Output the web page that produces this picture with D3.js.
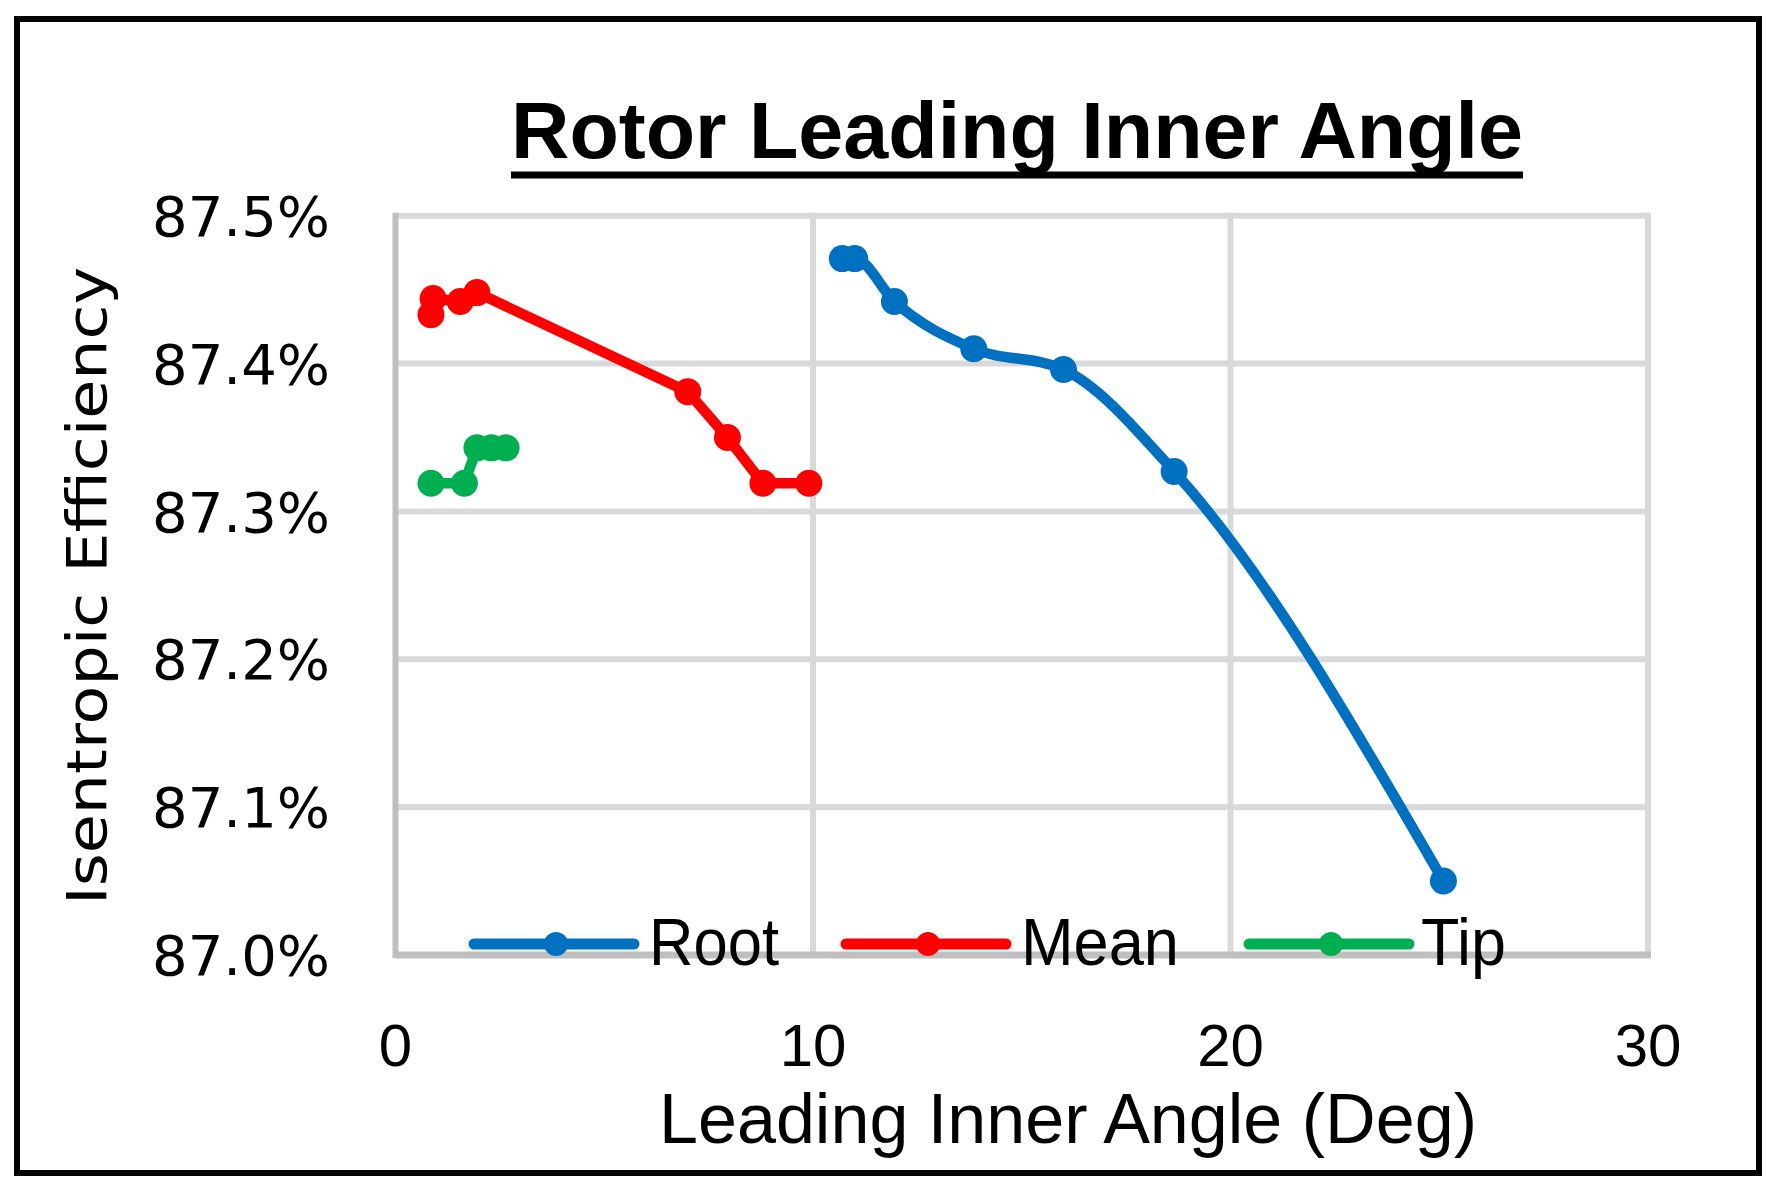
<!DOCTYPE html>
<html>
<head>
<meta charset="utf-8">
<script src="https://cdn.jsdelivr.net/npm/d3@7"></script>
<style>
  body { margin: 0; background: #fff; }
</style>
</head>
<body>
<svg id="chart"></svg>
<script>
var width = 1782;
var height = 1199;

// data
var rootX = [10.7, 11.0, 11.95, 13.85, 16.0, 18.65, 25.1];
var rootY = [87.471, 87.471, 87.442, 87.41, 87.396, 87.327, 87.05];
var meanX = [0.85, 0.9, 1.55, 1.95, 7.0, 7.95, 8.8, 9.9];
var meanY = [87.433, 87.444, 87.442, 87.448, 87.381, 87.35, 87.319, 87.319];
var tipX = [0.85, 1.65, 1.95, 2.3, 2.65];
var tipY = [87.319, 87.319, 87.343, 87.343, 87.343];

var seriesNames = ["Root", "Mean", "Tip"];
var seriesColors = ["#0070C0", "#FF0000", "#00B050"];
var xTicks = [0, 10, 20, 30];
var yTicks = [87.0, 87.1, 87.2, 87.3, 87.4, 87.5];

var series = [
  { name: seriesNames[0], color: seriesColors[0], x: rootX, y: rootY, smooth: true },
  { name: seriesNames[1], color: seriesColors[1], x: meanX, y: meanY, smooth: false },
  { name: seriesNames[2], color: seriesColors[2], x: tipX, y: tipY, smooth: false }
];

var plot = { left: 395.5, right: 1648, top: 215.7, bottom: 955 };

var svg = d3
  .select("#chart")
  .attr("width", width)
  .attr("height", height)
  .style("background", "#fff");

var x = d3.scaleLinear().domain([0, 30]).range([plot.left, plot.right]);
var y = d3.scaleLinear().domain([87.0, 87.5]).range([plot.bottom, plot.top]);

var calibri = "'Liberation Sans Narrow', 'Arial Narrow', 'Liberation Sans', sans-serif";
var verdana = "'DejaVu Sans', Verdana, sans-serif";

// outer frame
svg
  .append("rect")
  .attr("x", 17)
  .attr("y", 19)
  .attr("width", 1742)
  .attr("height", 1154)
  .attr("fill", "none")
  .attr("stroke", "#000")
  .attr("stroke-width", 6);

// gridlines
svg
  .append("g")
  .selectAll("line")
  .data(yTicks.slice(1))
  .enter()
  .append("line")
  .attr("x1", plot.left)
  .attr("x2", plot.right)
  .attr("y1", function (d) { return y(d); })
  .attr("y2", function (d) { return y(d); })
  .attr("stroke", "#D9D9D9")
  .attr("stroke-width", 6);

svg
  .append("g")
  .selectAll("line")
  .data(xTicks.slice(1))
  .enter()
  .append("line")
  .attr("x1", function (d) { return x(d); })
  .attr("x2", function (d) { return x(d); })
  .attr("y1", plot.top - 3)
  .attr("y2", plot.bottom)
  .attr("stroke", "#D9D9D9")
  .attr("stroke-width", 6);

// axis lines
svg
  .append("line")
  .attr("x1", plot.left)
  .attr("x2", plot.left)
  .attr("y1", plot.top - 3)
  .attr("y2", plot.bottom + 3)
  .attr("stroke", "#BFBFBF")
  .attr("stroke-width", 6);

svg
  .append("line")
  .attr("x1", plot.left)
  .attr("x2", plot.right + 3)
  .attr("y1", plot.bottom)
  .attr("y2", plot.bottom)
  .attr("stroke", "#BFBFBF")
  .attr("stroke-width", 7);

// y tick labels
svg
  .append("g")
  .selectAll("text")
  .data(yTicks)
  .enter()
  .append("text")
  .attr("x", 330)
  .attr("y", function (d) { return y(d); })
  .attr("dy", "0.36em")
  .attr("text-anchor", "end")
  .attr("font-family", verdana)
  .attr("font-size", 56)
  .attr("fill", "#000")
  .text(function (d) { return d.toFixed(1) + "%"; });

// x tick labels
svg
  .append("g")
  .selectAll("text")
  .data(xTicks)
  .enter()
  .append("text")
  .attr("x", function (d) { return x(d); })
  .attr("y", 1066)
  .attr("text-anchor", "middle")
  .attr("font-family", calibri)
  .attr("font-size", 60)
  .attr("fill", "#000")
  .text(function (d) { return d; });

// title
svg
  .append("text")
  .attr("x", 511)
  .attr("y", 158)
  .attr("font-family", calibri)
  .attr("font-weight", "bold")
  .attr("font-size", 80)
  .attr("textLength", 1012)
  .attr("lengthAdjust", "spacingAndGlyphs")
  .text("Rotor Leading Inner Angle");

svg
  .append("line")
  .attr("x1", 511)
  .attr("x2", 1523)
  .attr("y1", 175)
  .attr("y2", 175)
  .attr("stroke", "#000")
  .attr("stroke-width", 7);

// axis titles
svg
  .append("text")
  .attr("x", 659)
  .attr("y", 1143)
  .attr("font-family", calibri)
  .attr("font-size", 70)
  .attr("textLength", 818)
  .attr("lengthAdjust", "spacingAndGlyphs")
  .text("Leading Inner Angle (Deg)");

svg
  .append("text")
  .attr("transform", "translate(106,905) rotate(-90)")
  .attr("font-family", verdana)
  .attr("font-size", 56)
  .attr("textLength", 638)
  .attr("lengthAdjust", "spacingAndGlyphs")
  .text("Isentropic Efficiency");

// series lines and markers
var smoothLine = d3
  .line()
  .x(function (d) { return x(d[0]); })
  .y(function (d) { return y(d[1]); })
  .curve(d3.curveMonotoneX);

var straightLine = d3
  .line()
  .x(function (d) { return x(d[0]); })
  .y(function (d) { return y(d[1]); });

series.forEach(function (s) {
  var pts = s.x.map(function (v, i) { return [v, s.y[i]]; });
  var g = svg.append("g");
  g.append("path")
    .datum(pts)
    .attr("d", s.smooth ? smoothLine : straightLine)
    .attr("fill", "none")
    .attr("stroke", s.color)
    .attr("stroke-width", 10.5)
    .attr("stroke-linejoin", "round");
  g.selectAll("circle")
    .data(pts)
    .enter()
    .append("circle")
    .attr("cx", function (d) { return x(d[0]); })
    .attr("cy", function (d) { return y(d[1]); })
    .attr("r", 13.5)
    .attr("fill", s.color);
});

// legend
var legendLineX = [474, 846, 1249];
var legendTextX = [649, 1021, 1421];
var legendTextW = [130, 158, 85];
var legendY = 944;

var legend = svg
  .append("g")
  .selectAll("g")
  .data(series)
  .enter()
  .append("g");

legend
  .append("line")
  .attr("x1", function (d, i) { return legendLineX[i]; })
  .attr("x2", function (d, i) { return legendLineX[i] + 160; })
  .attr("y1", legendY)
  .attr("y2", legendY)
  .attr("stroke", function (d) { return d.color; })
  .attr("stroke-width", 11)
  .attr("stroke-linecap", "round");

legend
  .append("circle")
  .attr("cx", function (d, i) { return legendLineX[i] + 82; })
  .attr("cy", legendY)
  .attr("r", 12)
  .attr("fill", function (d) { return d.color; });

legend
  .append("text")
  .attr("x", function (d, i) { return legendTextX[i]; })
  .attr("y", 965)
  .attr("font-family", calibri)
  .attr("font-size", 66)
  .attr("textLength", function (d, i) { return legendTextW[i]; })
  .attr("lengthAdjust", "spacingAndGlyphs")
  .text(function (d) { return d.name; });
</script>
</body>
</html>
